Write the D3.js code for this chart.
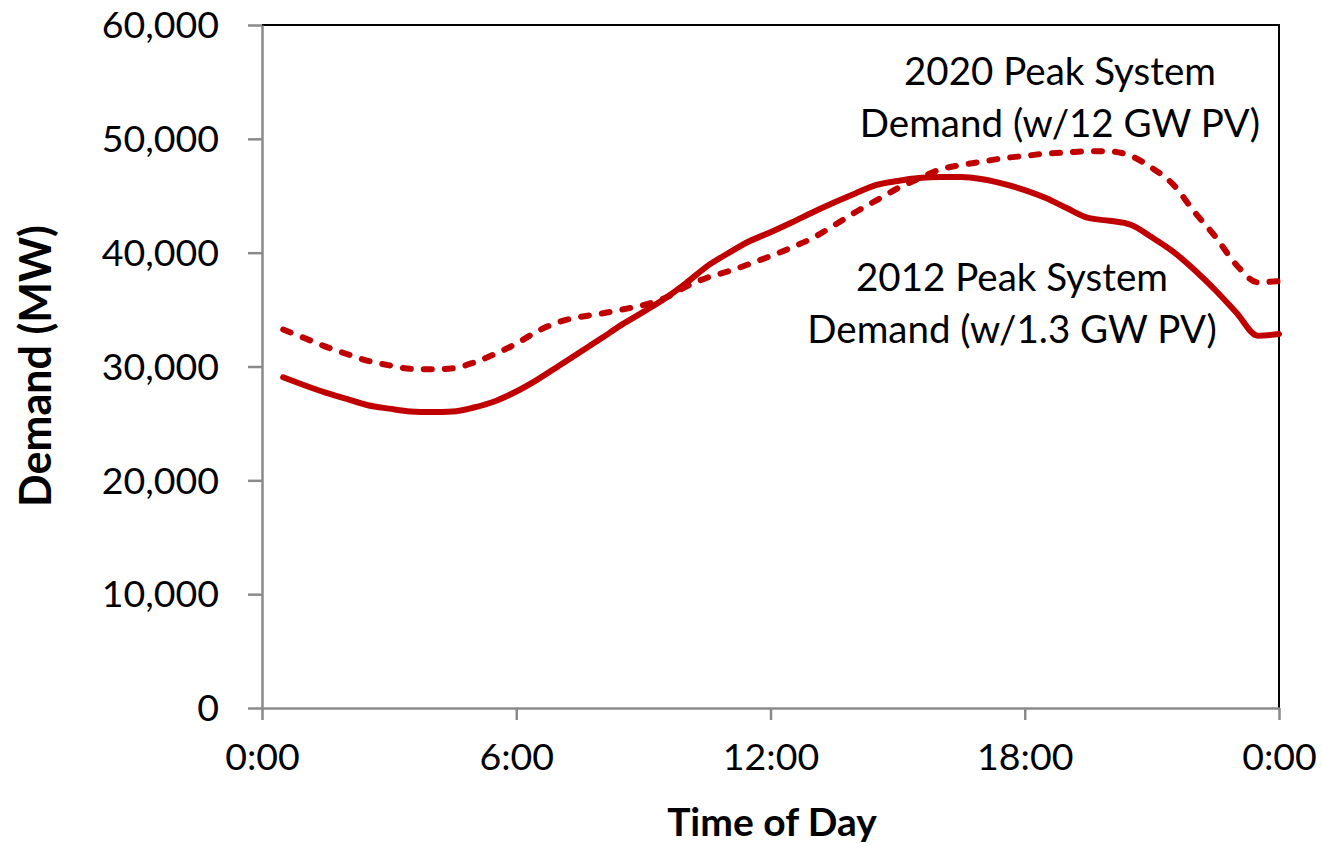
<!DOCTYPE html>
<html>
<head>
<meta charset="utf-8">
<script src="https://cdn.jsdelivr.net/npm/d3@7"></script>
<style>
  html, body { margin: 0; padding: 0; background: #fff; }
  svg { display: block; }
  text { font-family: Lato, "Open Sans", sans-serif; fill: #000; }
</style>
</head>
<body>
<svg id="chart" width="1322" height="843"></svg>
<script>
// Half-hourly time (hours) and demand (MW)
const hours = [0.5,1,1.5,2,2.5,3,3.5,4,4.5,5,5.5,6,6.5,7,7.5,8,8.5,9,9.5,10,10.5,11,11.5,12,
  12.5,13,13.5,14,14.5,15,15.5,16,16.5,17,17.5,18,18.5,19,19.5,20,20.5,21,21.5,22,22.5,23,23.5,24];
const demand2012 = [29050,28350,27700,27150,26600,26300,26050,26000,26050,26400,26950,27800,28850,30050,31250,32450,
  33700,34800,35950,37300,38800,39950,41000,41800,42650,43550,44400,45200,45950,46300,46550,46650,
  46650,46450,46050,45500,44800,43900,43050,42800,42450,41350,40100,38500,36700,34700,32700,32850];
const demand2020 = [33250,32500,31750,31100,30500,30100,29800,29750,29850,30350,31100,32000,33100,33900,34350,34650,
  35000,35400,36000,37000,37800,38350,39000,39700,40450,41300,42400,43550,44600,45650,46500,47300,
  47700,48000,48300,48500,48700,48800,48900,48900,48500,47450,46000,43600,41400,38900,37400,37500];
const xTicks = [0,6,12,18,24];
const xTickLabels = ["0:00","6:00","12:00","18:00","0:00"];
const yTicks = [0,10000,20000,30000,40000,50000,60000];
const label2020 = ["2020 Peak System","Demand (w/12 GW PV)"];
const label2012 = ["2012 Peak System","Demand (w/1.3 GW PV)"];

const svg = d3.select("#chart");
const pLeft = 262, pRight = 1279, pTop = 25, pBottom = 708;
const x = d3.scaleLinear().domain([0,24]).range([pLeft,pRight]);
const y = d3.scaleLinear().domain([0,60000]).range([pBottom,pTop]);
const axisGray = "#8a8a8a";
const red = "#C00000";

// plot border (top & right black)
svg.append("path")
  .attr("d", `M${pLeft},${pTop}H${pRight}V${pBottom}`)
  .attr("fill","none").attr("stroke","#000").attr("stroke-width",2);

// y axis
const yAxis = svg.append("g").attr("transform",`translate(${pLeft},0)`)
  .call(d3.axisLeft(y).tickValues(yTicks).tickSize(14).tickPadding(29)
        .tickFormat(d3.format(",")).tickSizeOuter(0));
yAxis.select(".domain").attr("stroke",axisGray).attr("stroke-width",2.5);
yAxis.selectAll(".tick line").attr("stroke",axisGray).attr("stroke-width",2.5);
yAxis.selectAll(".tick text").attr("font-size",37.5).attr("font-family","Lato").attr("fill","#000").attr("dy","0.34em");

// x axis
const xAxis = svg.append("g").attr("transform",`translate(0,${pBottom})`)
  .call(d3.axisBottom(x).tickValues(xTicks).tickSize(12).tickPadding(31)
        .tickFormat((d,i)=>xTickLabels[i]).tickSizeOuter(0));
xAxis.select(".domain").attr("stroke",axisGray).attr("stroke-width",2.5);
xAxis.selectAll(".tick line").attr("stroke",axisGray).attr("stroke-width",2.5);
xAxis.selectAll(".tick text").attr("font-size",37.5).attr("font-family","Lato").attr("fill","#000").attr("dy","0.5em");

// lines
const line = d3.line().x((d,i)=>x(hours[i])).y(d=>y(d)).curve(d3.curveMonotoneX);
svg.append("path").datum(demand2012).attr("d",line)
  .attr("fill","none").attr("stroke",red).attr("stroke-width",6)
  .attr("stroke-linejoin","round").attr("stroke-linecap","round");
svg.append("path").datum(demand2020).attr("d",line)
  .attr("fill","none").attr("stroke",red).attr("stroke-width",6)
  .attr("stroke-dasharray","8,13").attr("stroke-linecap","round");

// annotations
const ann = (lines, cx, y0, y1) => {
  svg.append("text").attr("x",cx).attr("y",y0).attr("text-anchor","middle").attr("font-size",38.5).text(lines[0]);
  svg.append("text").attr("x",cx).attr("y",y1).attr("text-anchor","middle").attr("font-size",38.5).text(lines[1]);
};
ann(label2020, 1060, 85, 137);
ann(label2012, 1012, 291, 343);

// axis titles
svg.append("text").attr("x",772).attr("y",836).attr("text-anchor","middle")
  .attr("font-size",39).attr("font-weight","bold").text("Time of Day");
svg.append("text").attr("transform","translate(51,366) rotate(-90)").attr("text-anchor","middle")
  .attr("font-size",43).attr("font-weight","bold").text("Demand (MW)");
</script>
</body>
</html>
